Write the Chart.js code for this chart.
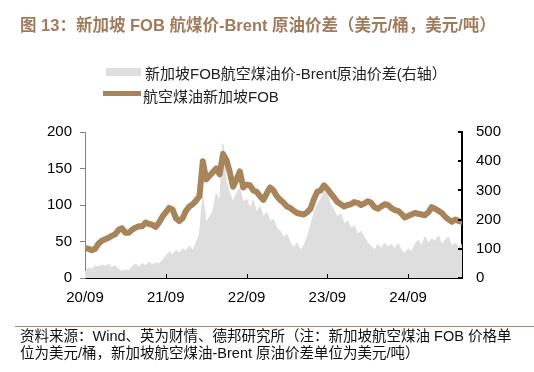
<!DOCTYPE html>
<html><head><meta charset="utf-8">
<script src="https://cdn.jsdelivr.net/npm/chart.js@4.4.0/dist/chart.umd.min.js"></script>
<style>
html,body{margin:0;padding:0;background:#fff;}
#wrap{position:relative;width:534px;height:372px;overflow:hidden;font-family:"Liberation Sans","Noto Sans CJK SC",sans-serif;}
#title{position:absolute;left:20px;top:12px;font-size:16.5px;font-weight:bold;color:#A07C5D;white-space:nowrap;font-family:"Liberation Sans","Noto Sans CJK SC",sans-serif;}
.lg{position:absolute;font-size:15px;color:#222;white-space:nowrap;font-family:"Liberation Sans","Noto Sans CJK SC",sans-serif;}
#sep{position:absolute;left:15px;top:326px;width:519px;height:1px;background:#A58A70;}
#note{position:absolute;left:20px;top:328px;font-size:14.5px;line-height:17px;color:#111;white-space:nowrap;font-family:"Liberation Sans","Noto Sans CJK SC",sans-serif;}
canvas{position:absolute;left:0;top:0;}
</style></head>
<body><div id="wrap">
<canvas id="c" width="534" height="372"></canvas>
<div id="title">图 13：新加坡 FOB 航煤价-Brent 原油价差（美元/桶，美元/吨）</div>
<div style="position:absolute;left:106px;top:68px;width:35px;height:8px;background:#DEDEDE;"></div>
<div class="lg" style="left:145px;top:62px;">新加坡FOB航空煤油价-Brent原油价差(右轴）</div>
<div style="position:absolute;left:103px;top:91px;width:38px;height:5px;background:#A8845A;"></div>
<div class="lg" style="left:143px;top:85px;">航空煤油新加坡FOB</div>
<div id="sep"></div>
<div id="note">资料来源：Wind、英为财情、德邦研究所（注：新加坡航空煤油 FOB 价格单<br>位为美元/桶，新加坡航空煤油-Brent 原油价差单位为美元/吨）</div>
</div>
<script>
// x tick labels (every 12 months starting 2020-09)
const xLabels = ['20/09','21/09','22/09','23/09','24/09'];
const leftTicks = [0,50,100,150,200];
const rightTicks = [0,100,200,300,400,500];
// half-month samples starting 2020-09
const fob = [41,40,38,40,47,51,53,55,58,60,66,68,62,62,66,69,71,71,76,74,
  73,70,76,84,90,96,94,82,78,82,92,98,101,106,112,160,135,140,145,150,
  142,170,162,145,125,135,146,124,128,127,120,118,112,107,116,124,120,112,107,103,
  98,96,92,89,88,87,90,95,108,118,120,127,122,116,110,104,101,98,100,101,
  104,103,100,102,105,103,97,95,98,101,100,96,93,92,88,83,85,87,89,88,
  87,86,90,97,95,92,89,84,80,77,80,78,77];
const spread = [20,35,30,42,38,45,40,48,36,42,30,22,28,25,40,48,38,50,42,55,
  45,52,48,60,75,90,80,95,85,100,92,110,95,120,150,280,190,210,230,290,
  260,460,330,290,260,290,310,260,270,240,265,225,245,210,225,195,200,170,160,140,
  150,120,105,120,95,110,140,180,220,250,270,295,285,250,230,210,220,185,195,170,
  180,150,160,140,120,110,95,115,100,120,105,115,100,118,95,85,100,90,115,130,
  110,140,120,135,125,145,115,130,140,110,120,105,115];

const fobPts = fob.map((v,i)=>({x:i*0.5,y:v}));
const spreadPts = spread.map((v,i)=>({x:i*0.5,y:v}));

const tickPlugin = {
  id:'ticks',
  afterDraw(chart){
    const ctx = chart.ctx, a = chart.chartArea;
    const xs = chart.scales.x, yr = chart.scales.y1;
    ctx.save();
    ctx.strokeStyle = '#000';
    ctx.lineWidth = 1;
    [12,24,36,48].forEach(v=>{
      const px = Math.round(xs.getPixelForValue(v))+0.5;
      ctx.beginPath(); ctx.moveTo(px,a.bottom); ctx.lineTo(px,a.bottom-4); ctx.stroke();
    });
    ctx.lineWidth = 2;
    rightTicks.forEach(v=>{
      const py = Math.round(yr.getPixelForValue(v));
      ctx.beginPath(); ctx.moveTo(a.right,py); ctx.lineTo(a.right-4,py); ctx.stroke();
    });
    ctx.restore();
  }
};

new Chart(document.getElementById('c'), {
  type:'line',
  data:{datasets:[
    {label:'航空煤油新加坡FOB', data:fobPts, yAxisID:'y', borderColor:'#A8845A', borderWidth:6,
     borderJoinStyle:'round', borderCapStyle:'round',
     pointRadius:0, fill:false, tension:0, order:0},
    {label:'新加坡FOB航空煤油价-Brent原油价差(右轴)', data:spreadPts, yAxisID:'y1', borderColor:'#DEDEDE', borderWidth:1,
     backgroundColor:'#DEDEDE', pointRadius:0, fill:'origin', tension:0, order:1}
  ]},
  options:{
    responsive:false, animation:false, devicePixelRatio:1,
    layout:{padding:{left:0,right:0,top:132,bottom:64}},
    plugins:{legend:{display:false}, tooltip:{enabled:false}},
    scales:{
      x:{type:'linear', min:0, max:56,
        afterBuildTicks(s){ s.ticks = xLabels.map((l,i)=>({value:i*12})); },
        afterFit(s){ s.height = 30; },
        grid:{display:false, drawOnChartArea:false, drawTicks:false},
        border:{display:true, color:'#000', width:1},
        ticks:{padding:11, maxRotation:0, autoSkip:false, color:'#000',
          font:{family:'Liberation Sans', size:15},
          callback(v){ const i = Math.round(v/12); return xLabels[i]; }}
      },
      y:{position:'left', min:0, max:200,
        afterBuildTicks(s){ s.ticks = leftTicks.map(v=>({value:v})); },
        afterFit(s){ s.width = 85; },
        grid:{display:true, drawOnChartArea:false, drawTicks:true, tickLength:5, color:'#808080'},
        border:{display:true, color:'#808080', width:1},
        ticks:{padding:8, color:'#000', font:{family:'Liberation Sans', size:15}}
      },
      y1:{position:'right', min:0, max:500,
        afterBuildTicks(s){ s.ticks = rightTicks.map(v=>({value:v})); },
        afterFit(s){ s.width = 72; },
        grid:{display:false, drawOnChartArea:false, drawTicks:false},
        border:{display:true, color:'#000', width:2},
        ticks:{padding:14, color:'#000', font:{family:'Liberation Sans', size:15}}
      }
    }
  },
  plugins:[tickPlugin]
});
</script>
</body></html>
